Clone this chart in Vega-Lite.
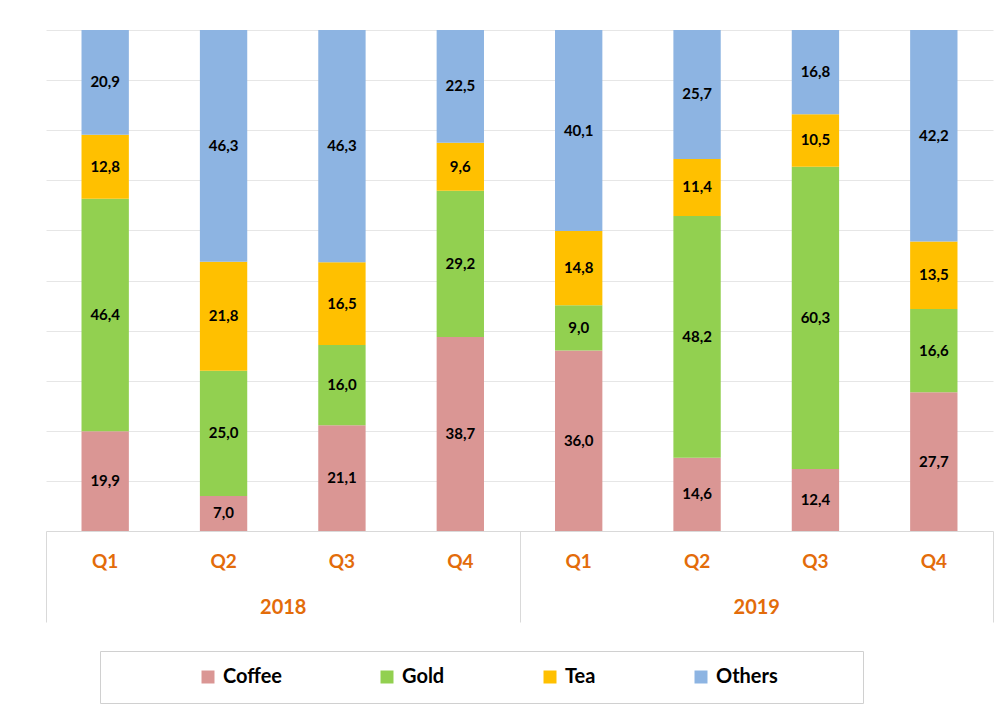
{
  "$schema": "https://vega.github.io/schema/vega-lite/v6.json",
  "width": 947,
  "height": 501,
  "autosize": {"type": "none"},
  "padding": {"left": 46, "top": 30, "right": 15, "bottom": 186},
  "background": "white",
  "config": {
    "view": {"stroke": null},
    "font": "Lato",
    "locale": {"number": {"decimal": ",", "thousands": ".", "grouping": [3], "currency": ["", " €"]}}
  },
  "data": {
    "values": [
      {"year": "2018", "key": "2018 Q1", "series": "Coffee", "ord": 1, "value": 19.9},
      {"year": "2018", "key": "2018 Q1", "series": "Gold", "ord": 2, "value": 46.4},
      {"year": "2018", "key": "2018 Q1", "series": "Tea", "ord": 3, "value": 12.8},
      {"year": "2018", "key": "2018 Q1", "series": "Others", "ord": 4, "value": 20.9},
      {"year": "2018", "key": "2018 Q2", "series": "Coffee", "ord": 1, "value": 7.0},
      {"year": "2018", "key": "2018 Q2", "series": "Gold", "ord": 2, "value": 25.0},
      {"year": "2018", "key": "2018 Q2", "series": "Tea", "ord": 3, "value": 21.8},
      {"year": "2018", "key": "2018 Q2", "series": "Others", "ord": 4, "value": 46.3},
      {"year": "2018", "key": "2018 Q3", "series": "Coffee", "ord": 1, "value": 21.1},
      {"year": "2018", "key": "2018 Q3", "series": "Gold", "ord": 2, "value": 16.0},
      {"year": "2018", "key": "2018 Q3", "series": "Tea", "ord": 3, "value": 16.5},
      {"year": "2018", "key": "2018 Q3", "series": "Others", "ord": 4, "value": 46.3},
      {"year": "2018", "key": "2018 Q4", "series": "Coffee", "ord": 1, "value": 38.7},
      {"year": "2018", "key": "2018 Q4", "series": "Gold", "ord": 2, "value": 29.2},
      {"year": "2018", "key": "2018 Q4", "series": "Tea", "ord": 3, "value": 9.6},
      {"year": "2018", "key": "2018 Q4", "series": "Others", "ord": 4, "value": 22.5},
      {"year": "2019", "key": "2019 Q1", "series": "Coffee", "ord": 1, "value": 36.0},
      {"year": "2019", "key": "2019 Q1", "series": "Gold", "ord": 2, "value": 9.0},
      {"year": "2019", "key": "2019 Q1", "series": "Tea", "ord": 3, "value": 14.8},
      {"year": "2019", "key": "2019 Q1", "series": "Others", "ord": 4, "value": 40.1},
      {"year": "2019", "key": "2019 Q2", "series": "Coffee", "ord": 1, "value": 14.6},
      {"year": "2019", "key": "2019 Q2", "series": "Gold", "ord": 2, "value": 48.2},
      {"year": "2019", "key": "2019 Q2", "series": "Tea", "ord": 3, "value": 11.4},
      {"year": "2019", "key": "2019 Q2", "series": "Others", "ord": 4, "value": 25.7},
      {"year": "2019", "key": "2019 Q3", "series": "Coffee", "ord": 1, "value": 12.4},
      {"year": "2019", "key": "2019 Q3", "series": "Gold", "ord": 2, "value": 60.3},
      {"year": "2019", "key": "2019 Q3", "series": "Tea", "ord": 3, "value": 10.5},
      {"year": "2019", "key": "2019 Q3", "series": "Others", "ord": 4, "value": 16.8},
      {"year": "2019", "key": "2019 Q4", "series": "Coffee", "ord": 1, "value": 27.7},
      {"year": "2019", "key": "2019 Q4", "series": "Gold", "ord": 2, "value": 16.6},
      {"year": "2019", "key": "2019 Q4", "series": "Tea", "ord": 3, "value": 13.5},
      {"year": "2019", "key": "2019 Q4", "series": "Others", "ord": 4, "value": 42.2}
    ]
  },
  "resolve": {"scale": {"x": "independent"}, "axis": {"x": "independent"}},
  "layer": [
    {
      "mark": {"type": "bar"},
      "encoding": {
        "x": {
          "field": "key", "type": "nominal", "sort": null,
          "scale": {"paddingInner": 0.6, "paddingOuter": 0.3},
          "axis": {
            "orient": "bottom",
            "title": null, "ticks": false, "domain": true, "domainColor": "#d9d9d9", "domainWidth": 1,
            "labelExpr": "split(datum.label, ' ')[1]", "labelAngle": 0,
            "labelFont": "Lato", "labelFontSize": 19, "labelFontWeight": "bold", "labelColor": "#E36C0A",
            "labelPadding": 21, "grid": false
          }
        },
        "y": {
          "field": "value", "type": "quantitative", "stack": "normalize",
          "scale": {"domain": [0, 1]},
          "axis": {
            "title": null, "labels": false, "ticks": false, "domain": false,
            "grid": true, "gridColor": "#e6e6e6", "gridWidth": 1,
            "values": [0.1, 0.2, 0.3, 0.4, 0.5, 0.6, 0.7, 0.8, 0.9, 1.0]
          }
        },
        "color": {
          "field": "series", "type": "nominal",
          "scale": {"domain": ["Coffee", "Gold", "Tea", "Others"], "range": ["#DA9694", "#92D050", "#FFC000", "#8DB4E2"]},
          "legend": {
            "title": ".", "titleOrient": "right", "titleColor": "#ffffff", "titlePadding": 66, "titleFontSize": 10,
            "orient": "none", "legendX": 54, "legendY": 621,
            "direction": "horizontal", "columns": 4, "symbolType": "square", "symbolSize": 169,
            "symbolStrokeWidth": 0, "symbolOffset": 82, "columnPadding": 13, "labelOffset": 5,
            "labelFont": "Lato", "labelFontSize": 20, "labelFontWeight": "bold", "labelColor": "#000000",
            "labelLimit": 400,
            "padding": 16, "strokeColor": "#d0d0d0", "fillColor": "#ffffff"
          }
        },
        "order": {"field": "ord", "type": "quantitative", "sort": "ascending"}
      }
    },
    {
      "transform": [
        {"stack": "value", "groupby": ["key"], "sort": [{"field": "ord", "order": "ascending"}], "offset": "normalize", "as": ["v0", "v1"]},
        {"calculate": "(datum.v0 + datum.v1) / 2", "as": "mid"}
      ],
      "mark": {"type": "text", "font": "Lato", "fontSize": 15, "fontWeight": "bold", "color": "#000000", "baseline": "middle", "align": "center"},
      "encoding": {
        "x": {
          "field": "key", "type": "nominal", "sort": null,
          "scale": {"paddingInner": 0.6, "paddingOuter": 0.3},
          "axis": null
        },
        "y": {"field": "mid", "type": "quantitative", "scale": {"domain": [0, 1]}},
        "text": {"field": "value", "type": "quantitative", "format": ".1f"}
      }
    },
    {
      "mark": {"type": "text", "text": "", "opacity": 0},
      "encoding": {
        "x": {
          "field": "year", "type": "nominal", "sort": null,
          "scale": {"paddingInner": 0, "paddingOuter": 0},
          "axis": {
            "orient": "bottom",
            "title": null, "domain": false, "ticks": true, "tickBand": "extent", "tickSize": 91,
            "tickColor": "#d9d9d9", "tickWidth": 1, "labelAngle": 0,
            "labelFont": "Lato", "labelFontSize": 20, "labelFontWeight": "bold", "labelColor": "#E36C0A",
            "labelPadding": -25, "grid": false
          }
        }
      }
    }
  ]
}
